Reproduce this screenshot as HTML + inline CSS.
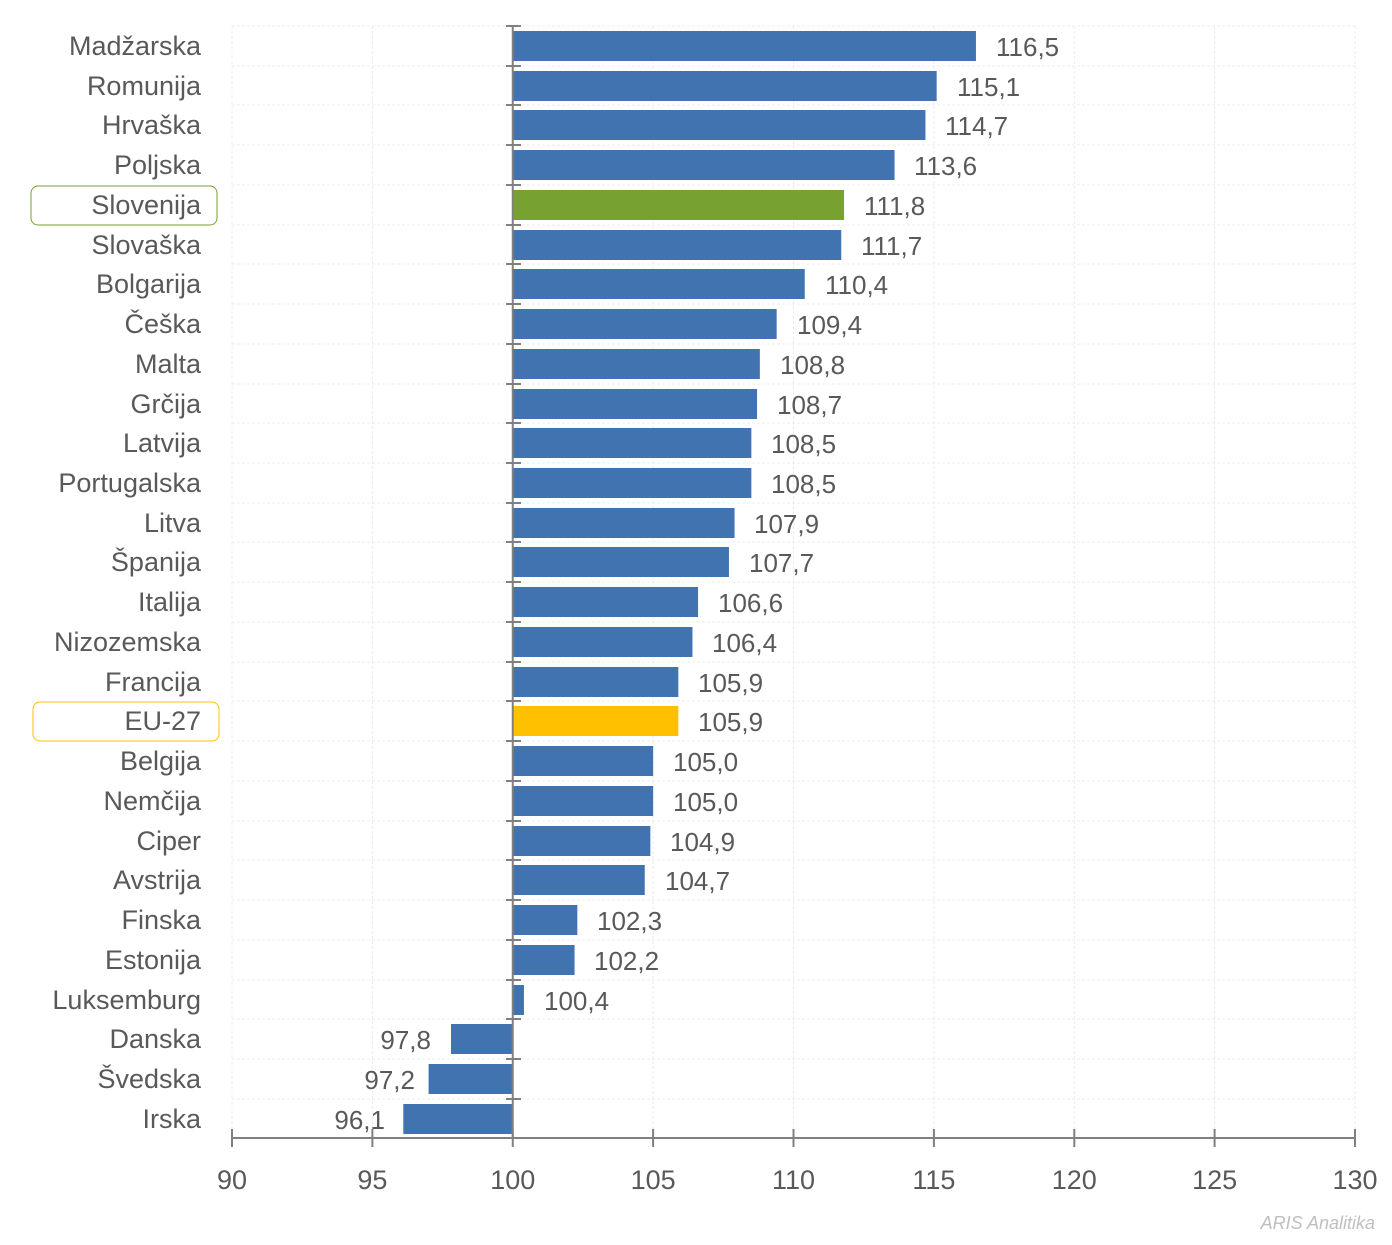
<!DOCTYPE html>
<html><head><meta charset="utf-8"><style>
body{margin:0;background:#fff;}
svg text{font-family:"Liberation Sans Narrow","Liberation Sans",sans-serif;fill:#595959;}
.g line{stroke:#ececec;stroke-dasharray:3,2;}
.b{fill:#4173b0;}
.l{font-size:27px;text-anchor:end;}
.v{font-size:26px;}
.t{font-size:27px;text-anchor:middle;}
.a line{stroke:#808080;stroke-width:2;}
</style></head><body>
<svg width="1392" height="1240" xmlns="http://www.w3.org/2000/svg">
<g class="g">
<line x1="232" x2="1355" y1="26" y2="26"/><line x1="232" x2="1355" y1="66" y2="66"/><line x1="232" x2="1355" y1="105" y2="105"/><line x1="232" x2="1355" y1="145" y2="145"/><line x1="232" x2="1355" y1="185" y2="185"/><line x1="232" x2="1355" y1="225" y2="225"/><line x1="232" x2="1355" y1="264" y2="264"/><line x1="232" x2="1355" y1="304" y2="304"/><line x1="232" x2="1355" y1="344" y2="344"/><line x1="232" x2="1355" y1="384" y2="384"/><line x1="232" x2="1355" y1="423" y2="423"/><line x1="232" x2="1355" y1="463" y2="463"/><line x1="232" x2="1355" y1="503" y2="503"/><line x1="232" x2="1355" y1="542" y2="542"/><line x1="232" x2="1355" y1="582" y2="582"/><line x1="232" x2="1355" y1="622" y2="622"/><line x1="232" x2="1355" y1="662" y2="662"/><line x1="232" x2="1355" y1="701" y2="701"/><line x1="232" x2="1355" y1="741" y2="741"/><line x1="232" x2="1355" y1="781" y2="781"/><line x1="232" x2="1355" y1="821" y2="821"/><line x1="232" x2="1355" y1="860" y2="860"/><line x1="232" x2="1355" y1="900" y2="900"/><line x1="232" x2="1355" y1="940" y2="940"/><line x1="232" x2="1355" y1="980" y2="980"/><line x1="232" x2="1355" y1="1019" y2="1019"/><line x1="232" x2="1355" y1="1059" y2="1059"/><line x1="232" x2="1355" y1="1099" y2="1099"/>
<line x1="232" x2="232" y1="26" y2="1137"/><line x1="372.4" x2="372.4" y1="26" y2="1137"/><line x1="653.1" x2="653.1" y1="26" y2="1137"/><line x1="793.5" x2="793.5" y1="26" y2="1137"/><line x1="933.9" x2="933.9" y1="26" y2="1137"/><line x1="1074.3" x2="1074.3" y1="26" y2="1137"/><line x1="1214.6" x2="1214.6" y1="26" y2="1137"/><line x1="1355" x2="1355" y1="26" y2="1137"/>
</g>
<rect x="31" y="186" width="186" height="39" rx="7" fill="none" stroke="#77a22f"/>
<rect x="33" y="702" width="186" height="39" rx="7" fill="none" stroke="#ffc000"/>
<g>
<rect class="b" x="512.75" y="31" width="463.2" height="30"/>
<rect class="b" x="512.75" y="71" width="423.9" height="30"/>
<rect class="b" x="512.75" y="110" width="412.7" height="30"/>
<rect class="b" x="512.75" y="150" width="381.8" height="30"/>
<rect x="512.75" y="190" width="331.3" height="30" fill="#77a22f"/>
<rect class="b" x="512.75" y="230" width="328.5" height="30"/>
<rect class="b" x="512.75" y="269" width="292" height="30"/>
<rect class="b" x="512.75" y="309" width="263.9" height="30"/>
<rect class="b" x="512.75" y="349" width="247.1" height="30"/>
<rect class="b" x="512.75" y="389" width="244.3" height="30"/>
<rect class="b" x="512.75" y="428" width="238.6" height="30"/>
<rect class="b" x="512.75" y="468" width="238.6" height="30"/>
<rect class="b" x="512.75" y="508" width="221.8" height="30"/>
<rect class="b" x="512.75" y="547" width="216.2" height="30"/>
<rect class="b" x="512.75" y="587" width="185.3" height="30"/>
<rect class="b" x="512.75" y="627" width="179.7" height="30"/>
<rect class="b" x="512.75" y="667" width="165.6" height="30"/>
<rect x="512.75" y="706" width="165.6" height="30" fill="#ffc000"/>
<rect class="b" x="512.75" y="746" width="140.4" height="30"/>
<rect class="b" x="512.75" y="786" width="140.4" height="30"/>
<rect class="b" x="512.75" y="826" width="137.6" height="30"/>
<rect class="b" x="512.75" y="865" width="132" height="30"/>
<rect class="b" x="512.75" y="905" width="64.6" height="30"/>
<rect class="b" x="512.75" y="945" width="61.8" height="30"/>
<rect class="b" x="512.75" y="985" width="11.2" height="30"/>
<rect class="b" x="451" y="1024" width="61.8" height="30"/>
<rect class="b" x="428.6" y="1064" width="84.2" height="30"/>
<rect class="b" x="403.3" y="1104" width="109.5" height="30"/>
</g>
<g class="v">
<text x="996" y="56">116,5</text>
<text x="957" y="96">115,1</text>
<text x="945" y="135">114,7</text>
<text x="914" y="175">113,6</text>
<text x="864" y="215">111,8</text>
<text x="861" y="255">111,7</text>
<text x="825" y="294">110,4</text>
<text x="797" y="334">109,4</text>
<text x="780" y="374">108,8</text>
<text x="777" y="414">108,7</text>
<text x="771" y="453">108,5</text>
<text x="771" y="493">108,5</text>
<text x="754" y="533">107,9</text>
<text x="749" y="572">107,7</text>
<text x="718" y="612">106,6</text>
<text x="712" y="652">106,4</text>
<text x="698" y="692">105,9</text>
<text x="698" y="731">105,9</text>
<text x="673" y="771">105,0</text>
<text x="673" y="811">105,0</text>
<text x="670" y="851">104,9</text>
<text x="665" y="890">104,7</text>
<text x="597" y="930">102,3</text>
<text x="594" y="970">102,2</text>
<text x="544" y="1010">100,4</text>
<text x="431" y="1049" text-anchor="end">97,8</text>
<text x="415" y="1089" text-anchor="end">97,2</text>
<text x="385" y="1129" text-anchor="end">96,1</text>
</g>
<g class="l">
<text x="201" y="55">Madžarska</text>
<text x="201" y="95">Romunija</text>
<text x="201" y="134">Hrvaška</text>
<text x="201" y="174">Poljska</text>
<text x="201" y="214">Slovenija</text>
<text x="201" y="254">Slovaška</text>
<text x="201" y="293">Bolgarija</text>
<text x="201" y="333">Češka</text>
<text x="201" y="373">Malta</text>
<text x="201" y="413">Grčija</text>
<text x="201" y="452">Latvija</text>
<text x="201" y="492">Portugalska</text>
<text x="201" y="532">Litva</text>
<text x="201" y="571">Španija</text>
<text x="201" y="611">Italija</text>
<text x="201" y="651">Nizozemska</text>
<text x="201" y="691">Francija</text>
<text x="201" y="730">EU-27</text>
<text x="201" y="770">Belgija</text>
<text x="201" y="810">Nemčija</text>
<text x="201" y="850">Ciper</text>
<text x="201" y="889">Avstrija</text>
<text x="201" y="929">Finska</text>
<text x="201" y="969">Estonija</text>
<text x="201" y="1009">Luksemburg</text>
<text x="201" y="1048">Danska</text>
<text x="201" y="1088">Švedska</text>
<text x="201" y="1128">Irska</text>
</g>
<g class="a">
<line x1="512.75" x2="512.75" y1="26" y2="1137"/>
<line x1="506" x2="521" y1="26" y2="26"/><line x1="506" x2="521" y1="66" y2="66"/><line x1="506" x2="521" y1="105" y2="105"/><line x1="506" x2="521" y1="145" y2="145"/><line x1="506" x2="521" y1="185" y2="185"/><line x1="506" x2="521" y1="225" y2="225"/><line x1="506" x2="521" y1="264" y2="264"/><line x1="506" x2="521" y1="304" y2="304"/><line x1="506" x2="521" y1="344" y2="344"/><line x1="506" x2="521" y1="384" y2="384"/><line x1="506" x2="521" y1="423" y2="423"/><line x1="506" x2="521" y1="463" y2="463"/><line x1="506" x2="521" y1="503" y2="503"/><line x1="506" x2="521" y1="542" y2="542"/><line x1="506" x2="521" y1="582" y2="582"/><line x1="506" x2="521" y1="622" y2="622"/><line x1="506" x2="521" y1="662" y2="662"/><line x1="506" x2="521" y1="701" y2="701"/><line x1="506" x2="521" y1="741" y2="741"/><line x1="506" x2="521" y1="781" y2="781"/><line x1="506" x2="521" y1="821" y2="821"/><line x1="506" x2="521" y1="860" y2="860"/><line x1="506" x2="521" y1="900" y2="900"/><line x1="506" x2="521" y1="940" y2="940"/><line x1="506" x2="521" y1="980" y2="980"/><line x1="506" x2="521" y1="1019" y2="1019"/><line x1="506" x2="521" y1="1059" y2="1059"/><line x1="506" x2="521" y1="1099" y2="1099"/>
<line x1="232" x2="1355" y1="1138" y2="1138"/>
<line x1="232" x2="232" y1="1129" y2="1147"/><line x1="372.4" x2="372.4" y1="1129" y2="1147"/><line x1="512.75" x2="512.75" y1="1129" y2="1147"/><line x1="653.1" x2="653.1" y1="1129" y2="1147"/><line x1="793.5" x2="793.5" y1="1129" y2="1147"/><line x1="933.9" x2="933.9" y1="1129" y2="1147"/><line x1="1074.3" x2="1074.3" y1="1129" y2="1147"/><line x1="1214.6" x2="1214.6" y1="1129" y2="1147"/><line x1="1355" x2="1355" y1="1129" y2="1147"/>
</g>
<g class="t">
<text x="232" y="1189">90</text><text x="372.4" y="1189">95</text><text x="512.75" y="1189">100</text><text x="653.1" y="1189">105</text><text x="793.5" y="1189">110</text><text x="933.9" y="1189">115</text><text x="1074.3" y="1189">120</text><text x="1214.6" y="1189">125</text><text x="1355" y="1189">130</text>
</g>
<text x="1375" y="1229" font-size="18" font-style="italic" text-anchor="end" style="fill:#bfbfbf">ARIS Analitika</text>
</svg>
</body></html>
